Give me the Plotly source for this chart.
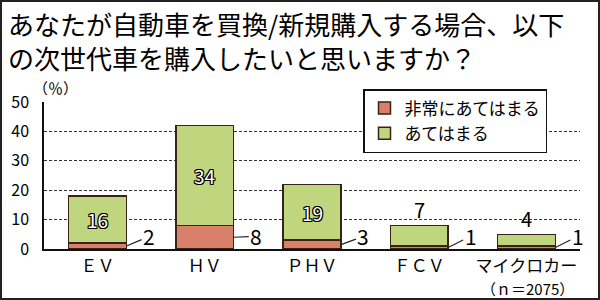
import plotly.graph_objects as go

categories = ["ＥＶ", "ＨＶ", "ＰＨＶ", "ＦＣＶ", "マイクロカー"]
very_much = [2, 8, 3, 1, 1]
somewhat = [16, 34, 19, 7, 4]
series_names = ["非常にあてはまる", "あてはまる"]
title_lines = ["あなたが自動車を買換/新規購入する場合、以下", "の次世代車を購入したいと思いますか？"]
y_ticks = [0, 10, 20, 30, 40, 50]
unit_label = "（％）"
note_label = "（ｎ＝2075）"

RED = "#d9806a"
GREEN = "#bfd67f"
EDGE = "#3a2216"
FONT = "Noto Sans CJK JP"

W, H = 600, 300
L, R, T, B = 44, 20, 102, 51
PW, PH = W - L - R, H - T - B


def px_x(px):
    return (px - L) / PW


def px_y(py):
    return (H - B - py) / PH


BAR_W = 0.54
xs = list(range(len(categories)))

fig = go.Figure()
fig.add_trace(go.Bar(x=xs, y=very_much, name=series_names[0], width=BAR_W,
                     marker=dict(color=RED, line=dict(color=EDGE, width=1.5))))
fig.add_trace(go.Bar(x=xs, y=somewhat, name=series_names[1], width=BAR_W,
                     marker=dict(color=GREEN, line=dict(color=EDGE, width=1.5))))

ann = []
outline = "-1px -1px 0 #000, 1px -1px 0 #000, -1px 1px 0 #000, 1px 1px 0 #000, 0 1px 0 #000, 0 -1px 0 #000, 1px 0 0 #000, -1px 0 0 #000"
for i, (a, b) in enumerate(zip(very_much, somewhat)):
    if b >= 10:
        ann.append(dict(x=i, y=a + b / 2, text=str(b), showarrow=False,
                        font=dict(family=FONT, size=19, color="white", shadow=outline)))
    else:
        ann.append(dict(x=i, y=a + b, text=str(b), showarrow=False, yanchor="bottom", yshift=-1,
                        font=dict(family=FONT, size=20, color="black")))
    ann.append(dict(x=i + BAR_W / 2, y=a / 2, axref="x", ayref="y", ax=i + 0.48, ay=4.3,
                    text=str(a), showarrow=True, arrowhead=0, arrowwidth=1.2, arrowcolor="#222",
                    font=dict(family=FONT, size=21, color="black")))

ann.append(dict(xref="paper", yref="paper", x=px_x(55), y=px_y(87), xanchor="center",
                yanchor="middle", text=unit_label,
                showarrow=False, font=dict(family=FONT, size=15, color="black")))
ann.append(dict(xref="paper", yref="paper", x=px_x(576), y=px_y(288), xanchor="right",
                yanchor="middle",
                text=note_label, showarrow=False, font=dict(family=FONT, size=15, color="black")))
ann.append(dict(xref="paper", yref="paper", x=px_x(6), y=px_y(40), xanchor="left",
                yanchor="middle", align="left", text="<br>".join(title_lines), showarrow=False,
                font=dict(family=FONT, size=26, color="black")))

fig.update_layout(
    width=W, height=H, margin=dict(l=L, r=R, t=T, b=B, autoexpand=False),
    barmode="stack", paper_bgcolor="white", plot_bgcolor="white",
    font=dict(family=FONT, color="black"),
    annotations=ann,
    legend=dict(x=px_x(363), y=px_y(89), xanchor="left", yanchor="top",
                bgcolor="white", bordercolor="#111", borderwidth=1.5,
                traceorder="normal", font=dict(family=FONT, size=17, color="black"),
                tracegroupgap=0, itemwidth=30),
    shapes=[dict(type="rect", xref="paper", yref="paper", x0=px_x(1), x1=px_x(599),
                 y0=px_y(299), y1=px_y(1), line=dict(color="#222", width=2))],
)
fig.update_xaxes(range=[-0.5, len(categories) - 0.5], tickvals=xs, ticktext=categories,
                 showline=True, linecolor="#111", linewidth=1.5, ticks="",
                 tickfont=dict(family=FONT, size=17, color="black"), ticklabelstandoff=1)
fig.update_yaxes(range=[0, 50], tickvals=y_ticks, showline=True, linecolor="#111", linewidth=1.5,
                 showgrid=True, gridcolor="#333", gridwidth=1, griddash="3px,2px",
                 zeroline=False, ticks="", ticklabelstandoff=10,
                 tickfont=dict(family=FONT, size=16, color="black"))

fig.write_html("out.html")
